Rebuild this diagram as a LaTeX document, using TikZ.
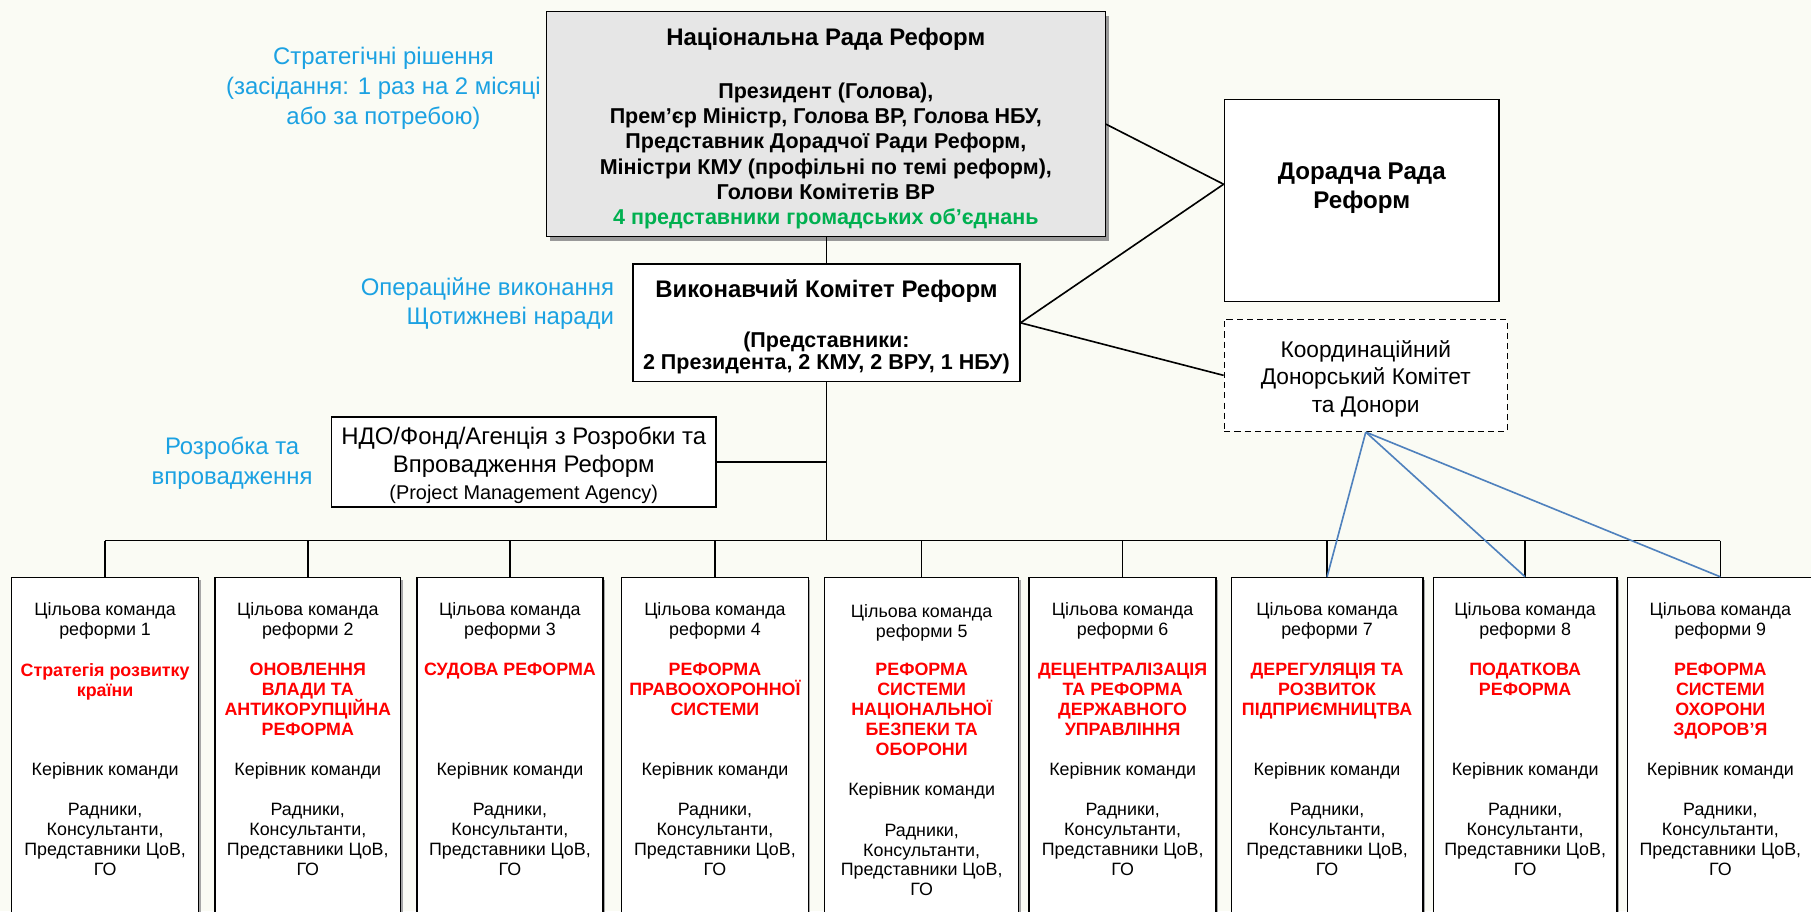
\documentclass[tikz,border=0pt]{standalone}
\usepackage{fontspec}
\setmainfont{Liberation Sans}
\usetikzlibrary{shadows}
\definecolor{bgcream}{HTML}{FAFBF4}
\definecolor{noteblue}{HTML}{1BA1E2}
\definecolor{civgreen}{HTML}{00B050}
\definecolor{donorblue}{HTML}{4F81BD}
\definecolor{radagray}{HTML}{E6E6E6}
\tikzstyle{box}=[rectangle,draw=black,fill=white,line width=0.7pt,align=center,inner sep=0pt]
\tikzstyle{radabox}=[box,fill=radagray,minimum width=9.68cm,minimum height=3.9cm,font=\bfseries\fontsize{10.6}{12.5}\selectfont,drop shadow={shadow xshift=0.07cm,shadow yshift=-0.07cm,fill=gray!80,opacity=1}]
\tikzstyle{vykombox}=[box,minimum width=6.7cm,minimum height=2.04cm,font=\bfseries\fontsize{10.6}{10.8}\selectfont]
\tikzstyle{donorbox}=[box,dash pattern=on 3pt off 2pt,minimum width=4.9cm,minimum height=1.94cm,font=\fontsize{11.2}{13.6}\selectfont]
\tikzstyle{teambox}=[box,minimum height=6cm,drop shadow={shadow xshift=0.035cm,shadow yshift=-0.035cm,fill=gray!70,opacity=1}]
\tikzstyle{teamtxt}=[align=center,inner sep=0pt,font=\fontsize{8.8}{9.8}\selectfont]
\tikzstyle{teamred}=[teamtxt,text=red,font=\bfseries\fontsize{8.8}{9.8}\selectfont]
\tikzstyle{note}=[align=center,inner sep=0pt,text=noteblue,font=\fontsize{11.8}{14.6}\selectfont]
\tikzstyle{link}=[draw=black,line width=0.8pt]
\tikzstyle{donorlink}=[draw=donorblue,line width=0.8pt]

\begin{document}
\begin{tikzpicture}[x=0.02cm,y=-0.02cm]
	\fill[bgcream] (0,0) rectangle (1568,789);
	\useasboundingbox (0,0) rectangle (1568,789);

	% top level
	\node[radabox] (rada) at (715,107.5) {\rule{0pt}{13pt}{\fontsize{11.8}{12.5}\selectfont Національна Рада Реформ}\\[13.5pt]
		Президент (Голова),\\Прем’єр Міністр, Голова ВР, Голова НБУ,\\Представник Дорадчої Ради Реформ,\\
		Міністри КМУ (профільні по темі реформ),\\Голови Комітетів ВР\\
		\textcolor{civgreen}{4 представники громадських об’єднань}};
	\node[vykombox] (vykom) at (715.5,279.5) {\rule{0pt}{13pt}{\fontsize{11.8}{12}\selectfont Виконавчий Комітет Реформ}\\[14pt]
		(Представники:\\2 Президента, 2 КМУ, 2 ВРУ, 1 НБУ)};
	\node[box,minimum width=4.76cm,minimum height=3.5cm] (doradcha) at (1179,173.5) {};
	\node[align=center,inner sep=0pt,font=\bfseries\fontsize{11.9}{14.2}\selectfont] (doradchatxt) at (1179,163) {Дорадча Рада\\Реформ};
	\node[donorbox] (donor) at (1182.5,325) {\rule{0pt}{11.5pt}Координаційний\\Донорський Комітет\\та Донори};
	\node[box,minimum width=6.66cm,minimum height=1.56cm,font=\fontsize{11.8}{13.6}\selectfont] (ndo) at (453.5,400) {\rule{0pt}{12pt}НДО/Фонд/Агенція з Розробки та\\Впровадження Реформ\\
		{\fontsize{9.8}{12}\selectfont (Project Management Agency)}};

	% blue notes
	\node[note] (strat) at (332,76.5) {Стратегічні рішення\\(засідання: 1 раз на 2 місяці\\або за потребою)};
	\node[note,align=right,anchor=east] (oper) at (532,263) {Операційне виконання\\Щотижневі наради};
	\node[note] (rozr) at (201,401) {Розробка та\\впровадження};

	% target teams
	\foreach \i/\cx/\bw/\dy/\ttl in {1/91/3.24/0/{Стратегія розвитку\\країни},
		2/266.5/3.22/0/{ОНОВЛЕННЯ\\ВЛАДИ ТА\\АНТИКОРУПЦІЙНА\\РЕФОРМА},
		3/441.5/3.22/0/{СУДОВА РЕФОРМА},
		4/619/3.24/0/{РЕФОРМА\\ПРАВООХОРОННОЇ\\СИСТЕМИ},
		5/798/3.36/17.5/{РЕФОРМА\\СИСТЕМИ\\НАЦІОНАЛЬНОЇ\\БЕЗПЕКИ ТА\\ОБОРОНИ},
		6/972/3.24/0/{ДЕЦЕНТРАЛІЗАЦІЯ\\ТА РЕФОРМА\\ДЕРЖАВНОГО\\УПРАВЛІННЯ},
		7/1149/3.32/0/{ДЕРЕГУЛЯЦІЯ ТА\\РОЗВИТОК\\ПІДПРИЄМНИЦТВА},
		8/1320.5/3.18/0/{ПОДАТКОВА\\РЕФОРМА},
		9/1489.5/3.22/0/{РЕФОРМА\\СИСТЕМИ\\ОХОРОНИ\\ЗДОРОВ’Я}} {
		\node[teambox,minimum width=\bw cm] (team\i) at (\cx,650) {};
		\node[teamtxt,anchor=north] (head\i) at (\cx,521.5+\dy/12) {Цільова команда\\реформи \i};
		\node[teamred,anchor=north] (aim\i) at (\cx,574) {\ttl};
		\node[teamtxt,anchor=north] (lead\i) at (\cx,660+\dy) {Керівник команди};
		\node[teamtxt,anchor=north] (staff\i) at (\cx,695.5+\dy) {Радники,\\Консультанти,\\Представники ЦоВ,\\ГО};
	}

	% connectors
	\coordinate (bus) at (715.5,468);
	\draw[link] (vykom.north |- rada.south) -- (vykom.north);
	\draw[link] (rada.east) -- ([yshift=0.28cm]doradcha.west);
	\draw[link] (vykom.east) -- ([yshift=0.28cm]doradcha.west);
	\draw[link] (vykom.east) -- (donor.west);
	\draw[link] (vykom.south) -- (bus);
	\draw[link] (ndo.east) -- (ndo.east -| vykom.south);
	\draw[link] (team1.north |- bus) -- (team9.north |- bus);
	\foreach \i in {1,...,9}
		\draw[link] (team\i.north |- bus) -- (team\i.north);
	\foreach \i in {7,8,9}
		\draw[donorlink] (donor.south) -- (team\i.north);
\end{tikzpicture}
\end{document}
